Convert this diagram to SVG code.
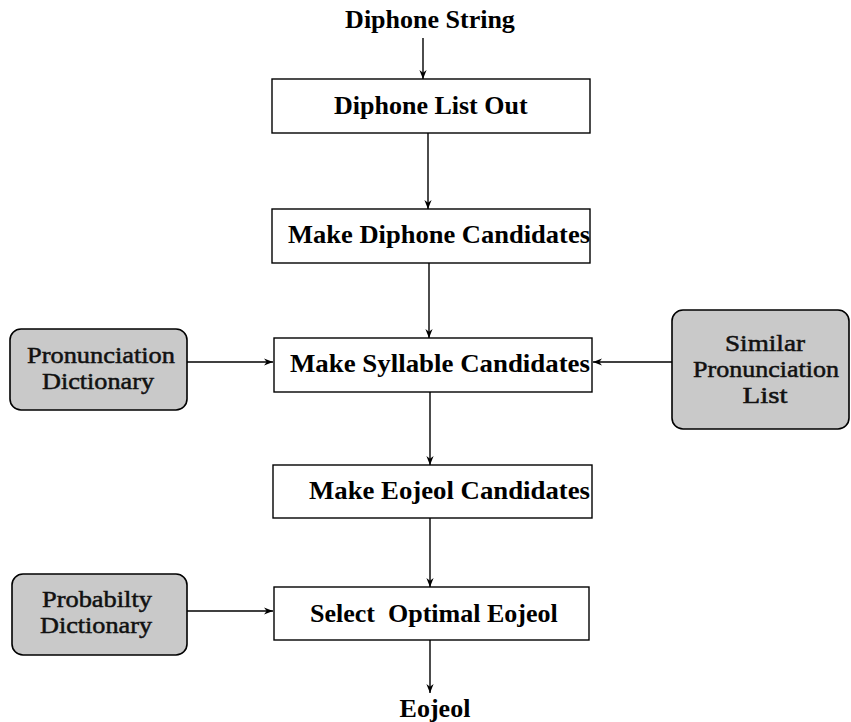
<svg xmlns="http://www.w3.org/2000/svg" width="851" height="722" viewBox="0 0 851 722">
<defs>
<style>
.box{fill:#fff;stroke:#000;stroke-width:1.4}
.db{fill:#c9c9c9;stroke:#000;stroke-width:1.6}
.t{font-family:"Liberation Serif","Times New Roman",serif;font-weight:bold;font-size:26px;fill:#000;white-space:pre}
.d{font-family:"Liberation Serif","Times New Roman",serif;font-size:23px;fill:#111;text-anchor:middle;stroke:#111;stroke-width:0.5}
.c{stroke:#000;stroke-width:1.4;fill:none;marker-end:url(#ah)}
</style>
<marker id="ah" viewBox="0 0 10 10" refX="10" refY="5" markerWidth="9" markerHeight="9" markerUnits="userSpaceOnUse" orient="auto">
<path d="M0,1 L10,5 L0,9 L3,5 Z" fill="#000"/>
</marker>
</defs>
<rect width="851" height="722" fill="#fff"/>
<g id="connectors">
<line class="c" x1="423" y1="38" x2="423" y2="79"/>
<line class="c" x1="428" y1="133" x2="428" y2="209"/>
<line class="c" x1="429" y1="263" x2="429" y2="338"/>
<line class="c" x1="430" y1="392" x2="430" y2="465"/>
<line class="c" x1="430" y1="518" x2="430" y2="587"/>
<line class="c" x1="430" y1="640" x2="430" y2="693"/>
<line class="c" x1="187" y1="362" x2="273" y2="362"/>
<line class="c" x1="672" y1="362" x2="593" y2="362"/>
<line class="c" x1="187" y1="611" x2="273" y2="611"/>
</g>
<g id="diphone-string"><text class="t" x="430" y="28" text-anchor="middle">Diphone String</text></g>
<g id="diphone-list-out">
<rect class="box" x="272" y="79" width="318" height="54"/>
<text class="t" x="334" y="114">Diphone List Out</text>
</g>
<g id="make-diphone-candidates">
<rect class="box" x="272" y="209" width="318" height="54"/>
<text class="t" x="288" y="243" textLength="302" lengthAdjust="spacingAndGlyphs">Make Diphone Candidates</text>
</g>
<g id="make-syllable-candidates">
<rect class="box" x="274" y="338" width="318" height="54"/>
<text class="t" x="290" y="372" textLength="300" lengthAdjust="spacingAndGlyphs">Make Syllable Candidates</text>
</g>
<g id="make-eojeol-candidates">
<rect class="box" x="273" y="465" width="319" height="53"/>
<text class="t" x="309" y="499" textLength="281" lengthAdjust="spacingAndGlyphs">Make Eojeol Candidates</text>
</g>
<g id="select-optimal-eojeol">
<rect class="box" x="274" y="587" width="315" height="53"/>
<text class="t" x="310" y="622">Select  Optimal Eojeol</text>
</g>
<g id="eojeol"><text class="t" x="435" y="717" text-anchor="middle">Eojeol</text></g>
<g id="pronunciation-dictionary">
<rect class="db" x="10" y="329" width="177" height="81" rx="11"/>
<text class="d" x="101" y="363" textLength="148" lengthAdjust="spacingAndGlyphs">Pronunciation</text>
<text class="d" x="98" y="389" textLength="112" lengthAdjust="spacingAndGlyphs">Dictionary</text>
</g>
<g id="similar-pronunciation-list">
<rect class="db" x="672" y="310" width="177" height="119" rx="11"/>
<text class="d" x="765" y="351" textLength="80" lengthAdjust="spacingAndGlyphs">Similar</text>
<text class="d" x="766" y="377" textLength="146" lengthAdjust="spacingAndGlyphs">Pronunciation</text>
<text class="d" x="765" y="403" textLength="45" lengthAdjust="spacingAndGlyphs">List</text>
</g>
<g id="probabilty-dictionary">
<rect class="db" x="12" y="574" width="175" height="81" rx="11"/>
<text class="d" x="97" y="607" textLength="110" lengthAdjust="spacingAndGlyphs">Probabilty</text>
<text class="d" x="96" y="633" textLength="112" lengthAdjust="spacingAndGlyphs">Dictionary</text>
</g>
</svg>
